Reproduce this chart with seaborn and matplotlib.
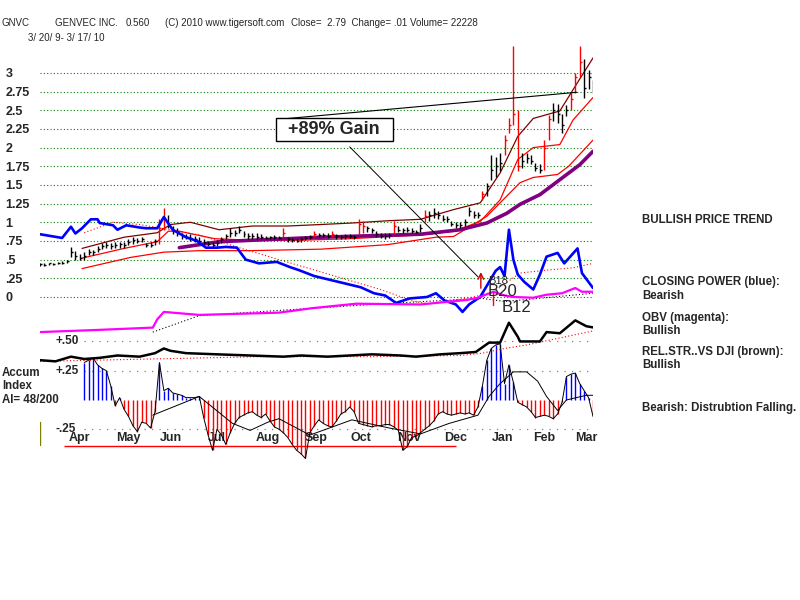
import matplotlib
matplotlib.use('Agg')
import matplotlib.pyplot as plt
import numpy as np
import pandas as pd
import seaborn as sns

# ---- price bars, one every 2 trading days (day 0 = 3/20/09, day 250 = 3/17/10) ----
bar_days = list(range(0, 251, 2))
highs = [.46, .45, .46, .46, .47, .48, .50, .67, .62, .58,
         .60, .64, .63, .68, .72, .73, .72, .73, .74, .73,
         .78, .80, .79, .80, .72, .73, .77, 1.05, 1.19, 1.10,
         .95, .92, .86, .84, .84, .82, .80, .78, .75, .74,
         .76, .80, .84, .92, .90, .95, .88, .86, .85, .85,
         .84, .82, .82, .83, .82, .93, .80, .79, .78, .80,
         .82, .83, .88, .86, .86, .85, .88, .84, .83, .84,
         .84, .83, 1.05, 1.02, .95, .93, .88, .86, .85, .86,
         1.02, .95, .93, .94, .92, .90, .98, 1.17, 1.15, 1.19,
         1.15, 1.10, 1.08, 1.02, 1.00, 1.00, 1.04, 1.20, 1.15, 1.14,
         1.42, 1.53, 1.90, 1.88, 1.93, 2.17, 2.40, 3.36, 2.50, 1.93,
         1.93, 1.90, 1.80, 1.78, 2.10, 2.44, 2.60, 2.58, 2.45, 2.57,
         2.73, 3.00, 3.36, 3.18, 3.04, 2.91]
lows = [.42, .42, .43, .43, .44, .44, .45, .53, .50, .49,
        .50, .56, .56, .60, .64, .65, .64, .66, .66, .65,
        .70, .71, .72, .73, .67, .67, .70, .71, .90, .93,
        .84, .82, .78, .77, .75, .74, .71, .71, .68, .67,
        .68, .72, .77, .80, .82, .86, .80, .78, .78, .78,
        .78, .77, .78, .78, .77, .80, .74, .73, .73, .74,
        .76, .78, .80, .80, .80, .79, .80, .78, .78, .78,
        .79, .78, .84, .86, .87, .86, .80, .79, .78, .79,
        .86, .87, .86, .87, .86, .85, .87, 1.00, 1.02, 1.06,
        1.05, 1.02, 1.00, .95, .93, .93, .95, 1.08, 1.06, 1.06,
        1.30, 1.35, 1.57, 1.60, 1.68, 1.90, 2.20, 2.30, 1.68, 1.73,
        1.80, 1.78, 1.68, 1.66, 1.70, 2.10, 2.35, 2.33, 2.20, 2.42,
        2.50, 2.73, 2.95, 2.67, 2.78, 2.73]
closes = [.44, .43, .45, .44, .45, .46, .48, .60, .55, .52,
          .55, .60, .60, .64, .68, .70, .68, .70, .71, .69,
          .74, .76, .75, .77, .70, .70, .75, .92, 1.05, .97,
          .88, .86, .82, .80, .79, .77, .75, .74, .71, .70,
          .72, .77, .82, .86, .85, .90, .84, .82, .81, .80,
          .80, .79, .80, .80, .79, .85, .77, .76, .75, .77,
          .79, .80, .84, .83, .83, .82, .84, .81, .80, .81,
          .81, .80, .98, .95, .92, .90, .84, .82, .81, .83,
          .95, .90, .89, .90, .88, .87, .92, 1.08, 1.10, 1.12,
          1.10, 1.05, 1.04, .98, .96, .97, 1.00, 1.15, 1.10, 1.10,
          1.38, 1.48, 1.70, 1.75, 1.80, 2.10, 2.30, 2.45, 1.75, 1.82,
          1.86, 1.82, 1.72, 1.70, 2.00, 2.38, 2.50, 2.45, 2.30, 2.50,
          2.65, 2.95, 3.15, 2.80, 2.95, 2.79]
red_bars = [27, 28, 55, 62, 66, 72, 73, 80, 87, 100, 105, 106, 107, 108,
            114, 115, 120, 121, 122]

# ---- price-panel lines ----
upper_days = [19, 38, 53, 59, 68, 81, 96, 112, 127, 141, 157, 172, 187, 199, 208, 216, 223, 235, 243, 250]
upper_band = [.65, .80, .86, .97, 1.00, .90, .95, .95, .97, .99, 1.02, 1.04, 1.17, 1.26, 1.66, 2.15, 2.39, 2.49, 2.87, 3.20]
mid_days = [19, 38, 53, 58, 63, 79, 95, 118, 140, 172, 187, 199, 208, 216, 223, 235, 241, 250]
mid_band = [.52, .65, .74, .88, .88, .78, .76, .76, .78, .83, .88, 1.01, 1.30, 1.84, 2.00, 2.04, 2.37, 2.67]
lower_days = [19, 41, 56, 72, 95, 127, 157, 179, 187, 202, 211, 217, 223, 234, 239, 250]
lower_band = [.38, .53, .60, .62, .62, .64, .70, .80, .81, 1.08, 1.35, 1.53, 1.60, 1.64, 1.75, 2.10]
ma_days = [63, 81, 127, 172, 190, 202, 211, 217, 226, 235, 244, 250]
ma_long = [.66, .74, .80, .84, .90, .99, 1.12, 1.24, 1.37, 1.57, 1.77, 1.95]

cp_days = [0, 4, 10, 14, 16, 19, 23, 26, 27, 33, 35, 39, 45, 48, 53, 56, 60, 66, 71, 75,
           80, 84, 89, 93, 99, 107, 113, 117, 124, 131, 138, 145, 151, 156, 161, 167, 175, 179, 183, 188,
           191, 194, 199, 201, 203, 206, 208, 210, 212, 214, 216, 219, 223, 226, 229, 234, 237, 243, 245, 248, 250]
closing_power = [.84, .82, .79, .94, .85, .92, 1.04, 1.04, .99, .96, .90, .96, .93, .92, .92, 1.07, .90, .80, .75, .66,
                 .66, .67, .66, .50, .45, .47, .40, .36, .28, .23, .18, .13, .05, .02, -.08, -.02, .00, .05, -.05, -.10,
                 -.20, -.10, .00, .10, .20, .35, .40, .28, .90, .50, .30, .20, .10, .30, .54, .59, .45, .65, .32, .20, .12]
cp_ma_days = [20, 33, 45, 53, 72, 90, 108, 123, 139, 154, 169, 176, 196, 205, 217, 229, 241, 250]
cp_ma = [.86, 1.0, .97, .93, .83, .66, .50, .37, .23, .10, -.06, -.09, 0, .07, .32, .36, .39, .45]

obv_days = [0, 27, 51, 53, 56, 72, 108, 123, 143, 172, 193, 198, 205, 210, 214, 223, 229, 236, 242, 245, 250]
obv = [-.47, -.44, -.41, -.30, -.20, -.24, -.21, -.15, -.09, -.10, -.04, -.01, .07, .02, .00, -.01, .03, .05, .12, .07, .07]
obv_ma_days = [51, 72, 108, 150, 180, 200, 210, 225, 250]
obv_ma = [-.47, -.25, -.18, -.10, -.05, -.02, -.06, -.02, .05]

# ---- lower panel: relative strength and accumulation index ----
rs_days = [0, 7, 14, 20, 27, 35, 45, 52, 56, 59, 66, 80, 95, 110, 118, 130, 140, 150, 163, 170,
           181, 190, 197, 203, 208, 212, 216, 217, 222, 226, 229, 235, 242, 247, 250]
rel_strength = [.34, .33, .37, .35, .36, .38, .37, .40, .44, .42, .40, .39, .38, .37, .38, .37, .38, .39, .38, .37,
                .39, .40, .41, .49, .49, .66, .54, .50, .50, .50, .58, .57, .68, .63, .62]
rs_ma_days = [0, 50, 100, 150, 190, 200, 210, 220, 235, 250]
rs_ma = [.33, .35, .37, .37, .38, .40, .44, .47, .53, .59]

accum_days = list(range(20, 251, 2))
accum = [.32, .34, .36, .30, .27, .25, .12, -.05, .02, -.08,
         -.14, -.22, -.27, -.19, -.20, -.24, -.10, .32, .08, .10,
         .06, .05, .04, .02, .02, .02, .03, -.15, -.30, -.43,
         -.25, -.30, -.38, -.28, -.20, -.15, -.13, -.11, -.10, -.13,
         -.15, -.12, -.18, -.23, -.25, -.28, -.32, -.38, -.43, -.46,
         -.50, -.28, -.22, -.17, -.20, -.22, -.23, -.18, -.12, -.10,
         -.06, -.10, -.20, -.21, -.22, -.23, -.22, -.22, -.21, -.21,
         -.23, -.26, -.43, -.40, -.32, -.31, -.28, -.25, -.22, -.18,
         -.12, -.10, -.12, -.13, -.12, -.11, -.12, -.11, -.13, -.06,
         .12, .34, .44, .47, .48, .14, .30, .15, -.02, -.04,
         -.06, -.10, -.15, -.14, -.13, -.14, -.16, -.12, -.02, .20,
         .22, .23, .14, .08, .02, -.14]
accum_ma_days = [51, 72, 87, 95, 103, 108, 122, 141, 158, 172, 185, 198, 203, 208, 214, 220, 225, 229, 234, 238, 247, 250]
accum_ma = [-.13, .03, -.20, -.26, -.19, -.16, -.30, -.17, -.24, -.29, -.20, -.13, .03, .14, .24, .24, .16, .03, -.09, .00, .04, .04]
accum_floor = -0.39
accum_floor_span = (11, 188)

month_days = [18, 40, 59, 80, 103, 125, 145, 167, 188, 209, 228, 247]
month_names = ['Apr', 'May', 'Jun', 'Jul', 'Aug', 'Sep', 'Oct', 'Nov', 'Dec', 'Jan', 'Feb', 'Mar']
price_ticks = [0, .25, .5, .75, 1, 1.25, 1.5, 1.75, 2, 2.25, 2.5, 2.75, 3]
price_tick_labels = ['0', '.25', '.5', '.75', '1', '1.25', '1.5', '1.75', '2', '2.25', '2.5', '2.75', '3']
accum_levels = [.50, .25, -.25]
accum_level_labels = ['+.50', '+.25', '-.25']

sns.set_style('white')
plt.rcParams['font.family'] = ['Liberation Sans', 'DejaVu Sans']

fig = plt.figure(figsize=(8, 6), dpi=100)
ax = fig.add_axes([40 / 800, 1 - 335 / 600, 553 / 800, 295 / 600])
ax2 = fig.add_axes([40 / 800, 1 - 460 / 600, 553 / 800, 145 / 600])
for a in (ax, ax2):
    a.set_xlim(0, 250)
    a.set_frame_on(False)
    a.set_axisbelow(True)
    a.set_facecolor('none')

# price panel
ax.set_ylim(-0.509, 3.44)
ax.set_xticks([])
ax.set_yticks(price_ticks, price_tick_labels)
ax.tick_params(axis='y', length=0, pad=25, labelsize=9)
for lbl in ax.get_yticklabels():
    lbl.set_horizontalalignment('left')
    lbl.set_fontweight('bold')
ax.grid(axis='y', color='#008000', linestyle=(0, (1, 2)), linewidth=0.8)

bars = pd.DataFrame({'day': bar_days, 'high': highs, 'low': lows, 'close': closes})
bars['color'] = ['#ff0000' if i in red_bars else 'black' for i in range(len(bars))]
ax.vlines(bars['day'], bars['low'], bars['high'], colors=bars['color'], linewidth=1.0, zorder=4)
ax.hlines(bars['close'], bars['day'], bars['day'] + 0.9, colors=bars['color'], linewidth=1.0, zorder=4)

sns.lineplot(x=upper_days, y=upper_band, ax=ax, color='#800000', linewidth=0.9, zorder=3)
sns.lineplot(x=mid_days, y=mid_band, ax=ax, color='#ff0000', linewidth=0.9, zorder=3)
sns.lineplot(x=lower_days, y=lower_band, ax=ax, color='#ff0000', linewidth=0.9, zorder=3)
sns.lineplot(x=ma_days, y=ma_long, ax=ax, color='#800080', linewidth=2.6, zorder=3)
sns.lineplot(x=cp_ma_days, y=cp_ma, ax=ax, color='#ff0000', linewidth=0.8, linestyle=(0, (1, 2)), zorder=3)
sns.lineplot(x=obv_ma_days, y=obv_ma, ax=ax, color='black', linewidth=0.8, linestyle=(0, (1, 2)), zorder=3)
sns.lineplot(x=cp_days, y=closing_power, ax=ax, color='#0000ff', linewidth=1.9, zorder=5)
sns.lineplot(x=obv_days, y=obv, ax=ax, color='#ff00ff', linewidth=1.6, zorder=5)
ax.set_xlabel('')
ax.set_ylabel('')

# gain annotation
ax.plot([108.5, 242.7], [2.38, 2.74], color='black', linewidth=0.8, zorder=6)
ax.plot([140, 198], [2.01, 0.27], color='black', linewidth=0.7, zorder=6)
ax.text(133, 2.24, '  +89% Gain  ', ha='center', va='center', fontsize=13, fontweight='bold', zorder=7,
        bbox=dict(boxstyle='square,pad=0.15', fc='white', ec='black', lw=1))
ax.annotate('', xy=(199.3, 0.37), xytext=(199.3, 0.08),
            arrowprops=dict(arrowstyle='->', color='#cc0000', lw=1.0), zorder=7)
ax.plot([204.8, 204.8], [0.05, -0.11], color='#ff0000', linewidth=1.0, zorder=7)
ax.text(207, 0.22, 'B18', ha='center', va='center', fontsize=8, zorder=8)
ax.text(209, 0.07, 'B20', ha='center', va='center', fontsize=12, zorder=8)
ax.text(215.6, -0.14, 'B12', ha='center', va='center', fontsize=12, zorder=8)

# lower panel
ax2.set_ylim(-0.513, 0.726)
ax2.set_yticks([])
ax2.set_xticks(month_days, month_names)
ax2.tick_params(axis='x', length=0, pad=-20, labelsize=9)
for lbl in ax2.get_xticklabels():
    lbl.set_fontweight('bold')
ax2.hlines(accum_levels, 20, 250, colors='#808080', linestyle=(0, (1, 5)), linewidth=0.9, zorder=1)
for lvl, txt in zip(accum_levels, accum_level_labels):
    ax2.text(7, lvl, txt, ha='left', va='center', fontsize=8.5, fontweight='bold')

acc = pd.DataFrame({'day': accum_days, 'ai': accum})
pos = acc[acc['ai'] >= 0]
neg = acc[acc['ai'] < 0]
ax2.vlines(pos['day'], 0, pos['ai'], colors='#0000ff', linewidth=1.0, zorder=2)
ax2.vlines(neg['day'], 0, neg['ai'], colors='#ff0000', linewidth=1.0, zorder=2)
sns.lineplot(data=acc, x='day', y='ai', ax=ax2, color='black', linewidth=0.7, zorder=3)
sns.lineplot(x=accum_ma_days, y=accum_ma, ax=ax2, color='black', linewidth=0.7, zorder=3)
sns.lineplot(x=rs_ma_days, y=rs_ma, ax=ax2, color='#ff0000', linewidth=0.8, linestyle=(0, (1, 2)), zorder=3)
sns.lineplot(x=rs_days, y=rel_strength, ax=ax2, color='black', linewidth=1.8, zorder=4)
ax2.hlines(accum_floor, *accum_floor_span, colors='#ff0000', linewidth=1.0, zorder=2)
ax2.axvline(0, ymin=0.105, ymax=0.26, color='#808000', linewidth=1.0)
ax2.set_xlabel('')
ax2.set_ylabel('')

# header and side notes
for x, y, txt in [(2, 23, 'GNVC'), (55, 23, 'GENVEC INC.'), (126, 23, '0.560'),
                  (165, 23, '(C) 2010 www.tigersoft.com'),
                  (291, 23, 'Close=  2.79  Change= .01 Volume= 22228'),
                  (28, 38, '3/ 20/ 9- 3/ 17/ 10')]:
    fig.text(x / 800, 1 - y / 600, txt, va='center', ha='left', fontsize=7)

side = dict(fontsize=8.3, va='center', ha='left', fontweight='bold')
for y, txt in [(220, 'BULLISH PRICE TREND'), (282, 'CLOSING POWER (blue):'), (296, 'Bearish'),
               (318, 'OBV (magenta):'), (331, 'Bullish'), (352, 'REL.STR..VS DJI (brown):'),
               (365, 'Bullish'), (408, 'Bearish: Distrubtion Falling.')]:
    fig.text(642 / 800, 1 - y / 600, txt, **side)
for y, txt in [(373, 'Accum'), (386, 'Index'), (400, 'AI= 48/200')]:
    fig.text(2 / 800, 1 - y / 600, txt, **side)

fig.savefig('out.png', dpi=100, facecolor='white')
